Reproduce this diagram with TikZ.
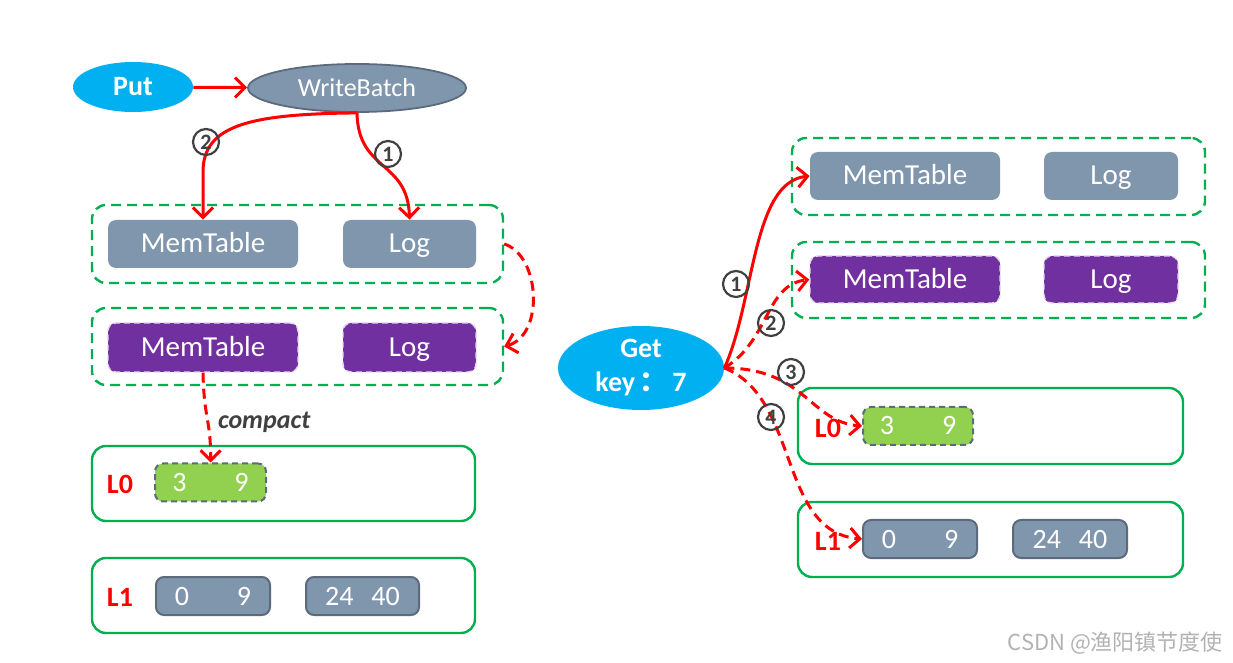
\documentclass[tikz,border=0pt]{standalone}
\usepackage{fontspec}
\setmainfont{Carlito}
\newfontfamily\cjkfont{Noto Sans CJK SC}
\usetikzlibrary{arrows.meta}
\usetikzlibrary{shapes.geometric}
\definecolor{getblue}{HTML}{00B0F0}
\definecolor{slate}{HTML}{8096AC}
\definecolor{slateline}{HTML}{5B6B7D}
\definecolor{immpurple}{HTML}{7030A0}
\definecolor{lvlgreen}{HTML}{00B050}
\definecolor{seggreen}{HTML}{92D050}
\definecolor{arrowred}{HTML}{FF0000}
\definecolor{labelgray}{HTML}{404040}
\tikzset{redline/.style={draw=arrowred, line width=1.5pt, -{Straight Barb[length=5pt,width=10pt]}}}
\tikzset{reddash/.style={redline, dash pattern=on 5pt off 3pt}}
\tikzset{opbubble/.style={ellipse, fill=getblue, text=white, inner sep=0pt, align=center,
    font=\fontsize{14}{17}\selectfont\bfseries}}
\tikzset{memgroup/.style={draw=lvlgreen, line width=1.2pt, dash pattern=on 5pt off 3pt, rounded corners=7pt}}
\tikzset{lvlbox/.style={draw=lvlgreen, line width=1.2pt, rounded corners=7pt}}
\tikzset{tablebox/.style={fill=slate, text=white, rounded corners=4pt, inner sep=0pt,
    text height=9pt, text depth=0pt, font=\fontsize{14.5}{17}\selectfont}}
\tikzset{immbox/.style={tablebox, fill=immpurple, draw=white!80!immpurple, line width=0.7pt, densely dashed}}
\tikzset{segbox/.style={tablebox, draw=slateline, line width=1pt, minimum height=19pt, font=\fontsize{14}{16}\selectfont}}
\tikzset{newseg/.style={segbox, fill=seggreen, dash pattern=on 3pt off 2pt}}
\tikzset{lvllabel/.style={text=arrowred, font=\fontsize{14}{16}\selectfont\bfseries}}
\tikzset{stepnum/.style={circle, draw=labelgray, line width=1.1pt, inner sep=0pt, minimum size=13pt,
    text=labelgray, font=\fontsize{11}{11}\selectfont\bfseries}}

\begin{document}
\begin{tikzpicture}[x=0.5pt, y=-0.5pt]
    \useasboundingbox (0,0) rectangle (1233,663);

    % write path
    \node[opbubble, minimum width=60pt, minimum height=25pt] (put) at (133,87) {Put};
    \node[ellipse, fill=slate, draw=slateline, line width=0.9pt, text=white, inner sep=0pt,
        minimum width=109pt, minimum height=24pt, font=\fontsize{13}{15}\selectfont] (wb) at (357,88) {WriteBatch};

    \node[memgroup, minimum width=205.5pt, minimum height=39pt] (lgrp1) at (297.5,244) {};
    \node[tablebox, minimum width=95pt, minimum height=24pt] (lmem1) at (203,244) {MemTable};
    \node[tablebox, minimum width=66.5pt, minimum height=24pt] (llog1) at (409.5,244) {Log};

    \node[memgroup, minimum width=205.5pt, minimum height=38.5pt] (lgrp2) at (297.5,346.5) {};
    \node[immbox, minimum width=95pt, minimum height=24.5pt] (lmem2) at (203,347.5) {MemTable};
    \node[immbox, minimum width=66.5pt, minimum height=24.5pt] (llog2) at (409.5,347.5) {Log};

    \node[lvlbox, minimum width=191.5pt, minimum height=37.5pt] (llv0) at (283.5,483.5) {};
    \node[lvllabel] (llab0) at (120,484) {L0};
    \node[newseg, minimum width=55.5pt] (lseg0) at (210.5,482.5) {3\hspace{24pt}9};

    \node[lvlbox, minimum width=191.5pt, minimum height=37.5pt] (llv1) at (283.5,595.5) {};
    \node[lvllabel] (llab1) at (120,597) {L1};
    \node[segbox, minimum width=57pt] (lseg1) at (213,596) {0\hspace{24pt}9};
    \node[segbox, minimum width=56.5pt] (lseg2) at (362.5,596) {24\hspace{9pt}40};

    \draw[redline] (put) -- (wb);
    \draw[redline] (wb.south) .. controls (250,114) and (203,125) .. (203,172) -- (lmem1.north);
    \draw[redline] (wb.south) .. controls (358,172) and (408,160) .. (llog1.north);
    \draw[reddash] (lgrp1.east) .. controls (540,255) and (545,335) .. (lgrp2.east);
    \draw[reddash] (lmem2.south) .. controls (204,420) and (211,420) .. (lseg0.north)
        node[pos=0.55, right=1pt, text=labelgray, font=\fontsize{13}{15}\selectfont\bfseries\itshape] (cmp) {compact};
    \node[stepnum] (lw2) at (206,142) {2};
    \node[stepnum] (lw1) at (388,154) {1};

    % read path
    \node[opbubble, minimum width=83pt, minimum height=42pt] (get) at (641,368) {Get\\key\,{\cjkfont ：}\,7};

    \node[memgroup, minimum width=206.5pt, minimum height=38.5pt] (rgrp1) at (998.5,176.5) {};
    \node[tablebox, minimum width=95pt, minimum height=24pt] (rmem1) at (905,176) {MemTable};
    \node[tablebox, minimum width=67pt, minimum height=24pt] (rlog1) at (1111,176) {Log};

    \node[memgroup, minimum width=206.5pt, minimum height=38pt] (rgrp2) at (998.5,280) {};
    \node[immbox, minimum width=95pt, minimum height=23.5pt] (rmem2) at (905,279.5) {MemTable};
    \node[immbox, minimum width=67pt, minimum height=23.5pt] (rlog2) at (1111,279.5) {Log};

    \node[lvlbox, minimum width=192.5pt, minimum height=38pt] (rlv0) at (990.5,426) {};
    \node[lvllabel] (rlab0) at (828,428) {L0};
    \node[newseg, minimum width=55pt] (rseg0) at (918,426) {3\hspace{24pt}9};

    \node[lvlbox, minimum width=192.5pt, minimum height=37.5pt] (rlv1) at (990.5,539.5) {};
    \node[lvllabel] (rlab1) at (828,541) {L1};
    \node[segbox, minimum width=57pt] (rseg1) at (920,539) {0\hspace{24pt}9};
    \node[segbox, minimum width=57pt] (rseg2) at (1070,539) {24\hspace{9pt}40};

    \draw[redline] (get.east) .. controls (755,300) and (752,182) .. (rmem1.west);
    \draw[reddash] (get.east) .. controls (770,340) and (765,285) .. (rmem2.west);
    \draw[reddash] (get.east) .. controls (805,368) and (810,422) .. (rseg0.west);
    \draw[reddash] (get.east) .. controls (800,398) and (778,532) .. (rseg1.west);
    \node[stepnum] (rr1) at (736,284) {1};
    \node[stepnum] (rr2) at (771,323) {2};
    \node[stepnum] (rr3) at (791,372) {3};
    \node[stepnum] (rr4) at (771,417) {4};

    \node[anchor=east, text=black!30, font=\cjkfont\fontsize{11}{13}\selectfont] (mark) at (1230,643) {CSDN @渔阳镇节度使};
\end{tikzpicture}
\end{document}
